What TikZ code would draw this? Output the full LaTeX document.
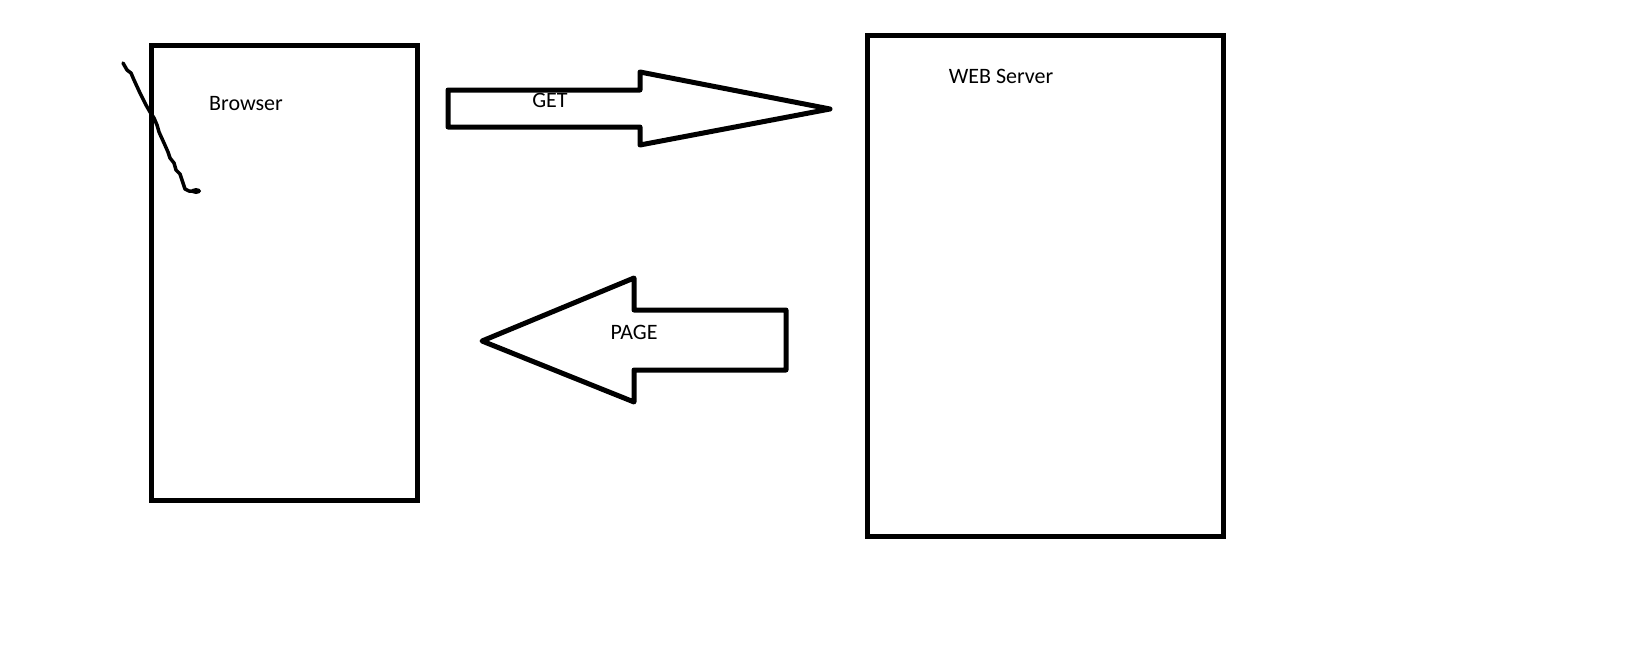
\documentclass[tikz,border=0pt]{standalone}
\usepackage{fontspec}
\setmainfont{Carlito}
\begin{document}
\begin{tikzpicture}[x=1pt,y=-1pt,
  bigarrow/.style={draw=black,line width=5pt,line join=round,fill=white},
  lbl/.style={font=\fontsize{22}{26}\selectfont,inner sep=0pt,anchor=center}]
\useasboundingbox (0,0) rectangle (1635,648);
% Browser box
\node[draw=black,line width=5pt,inner sep=0pt,minimum width=266pt,minimum height=454.5pt] (browser) at (284.5,272.75) {};
\node[lbl] (browserlbl) at (246,104) {Browser};
% Web server box
\node[draw=black,line width=5pt,inner sep=0pt,minimum width=356pt,minimum height=501pt] (server) at (1045.5,285.5) {};
\node[lbl] (serverlbl) at (1001,76) {WEB Server};
% GET arrow
\draw[bigarrow] (448,90) -- (640,90) -- (640,72) -- (830,109) -- (640,145) -- (640,127) -- (448,127) -- cycle;
\node[lbl] (getlbl) at (550,100) {GET};
% PAGE arrow
\draw[bigarrow] (786,310) -- (634,310) -- (634,278) -- (482,341) -- (634,402) -- (634,370) -- (786,370) -- cycle;
\node[lbl] (pagelbl) at (634,332) {PAGE};
% squiggle
\draw[line width=3.5pt,line cap=round,line join=round] (123,63) -- (127,70) -- (131,73) -- (134,80) -- (140,93) -- (146,105) -- (150,112) -- (154,118) -- (157,125) -- (159,132) -- (164,143) -- (168,152) -- (170,158) -- (174,163) -- (176,170) -- (180,174) -- (182,180) -- (185,189) -- (189,191) -- (199,191);
\fill (196,191) ellipse (5pt and 3pt);
\end{tikzpicture}
\end{document}
